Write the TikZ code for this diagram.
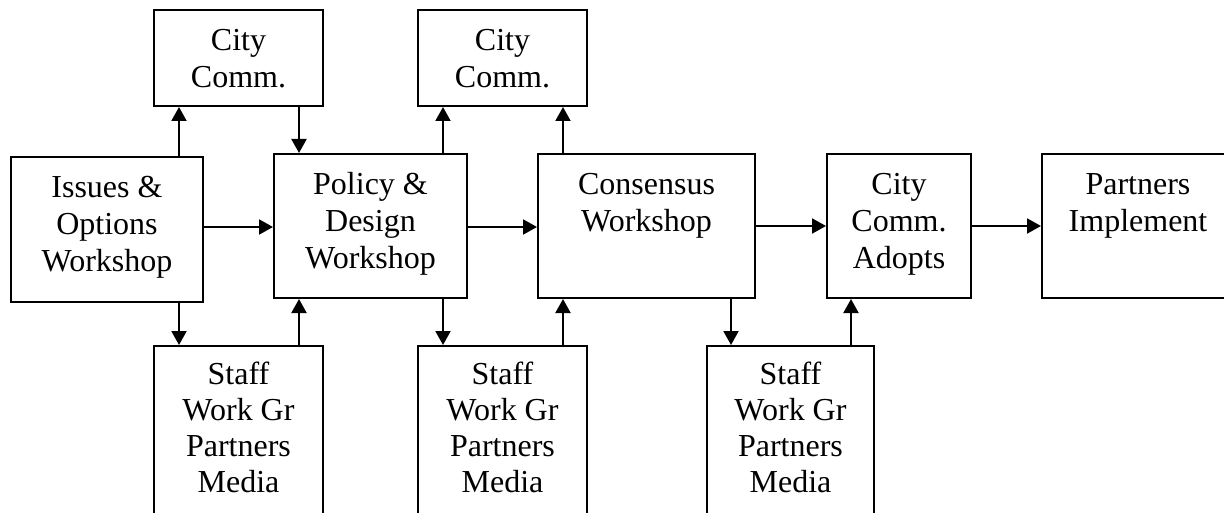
\documentclass[tikz,border=0pt]{standalone}
\usepackage{fontspec}
\setmainfont{Liberation Serif}
\usetikzlibrary{arrows.meta}
\begin{document}
\begin{tikzpicture}[x=1pt,y=-1pt,
  box/.style={draw, line width=2pt, rectangle, inner sep=0pt},
  txt/.style={inner sep=0pt, align=center, anchor=north, font=\fontsize{32}{37}\selectfont},
  arr/.style={line width=2pt, -{Triangle[length=14pt,width=15pt]}}]
\useasboundingbox (0,0) rectangle (1224,513);
\clip (0,0) rectangle (1224,513);
% boxes
\node[box, minimum width=169pt, minimum height=96pt]  (ci1) at (238.5,58) {};
\node[box, minimum width=192pt, minimum height=145pt] (iss) at (107,229.5) {};
\node[box, minimum width=193pt, minimum height=144pt] (pol) at (370.5,226) {};
\node[box, minimum width=169pt, minimum height=96pt]  (ci2) at (502.5,58) {};
\node[box, minimum width=217pt, minimum height=144pt] (con) at (646.5,226) {};
\node[box, minimum width=144pt, minimum height=144pt] (ado) at (899,226) {};
\node[box, minimum width=192pt, minimum height=144pt] (par) at (1138,226) {};
\node[box, minimum width=169pt, minimum height=200pt] (st1) at (238.5,446) {};
\node[box, minimum width=169pt, minimum height=200pt] (st2) at (502.5,446) {};
\node[box, minimum width=167pt, minimum height=200pt] (st3) at (790.5,446) {};
% texts
\node[txt] (ci1t) at ([yshift=-15.4pt]ci1.north) {\strut City\\Comm.};
\node[txt] (isst) at ([yshift=-15.4pt]iss.north) {\strut Issues \&\\Options\\Workshop};
\node[txt] (polt) at ([yshift=-15.4pt]pol.north) {\strut Policy \&\\Design\\Workshop};
\node[txt] (ci2t) at ([yshift=-15.4pt]ci2.north) {\strut City\\Comm.};
\node[txt] (cont) at ([yshift=-15.4pt]con.north) {\strut Consensus\\Workshop};
\node[txt] (adot) at ([yshift=-15.4pt]ado.north) {\strut City\\Comm.\\Adopts};
\node[txt] (part) at ([yshift=-15.4pt]par.north) {\strut Partners\\Implement};
\node[txt, font=\fontsize{32}{36}\selectfont] (st1t) at ([yshift=-14.4pt]st1.north) {\strut Staff\\Work Gr\\Partners\\Media};
\node[txt, font=\fontsize{32}{36}\selectfont] (st2t) at ([yshift=-14.4pt]st2.north) {\strut Staff\\Work Gr\\Partners\\Media};
\node[txt, font=\fontsize{32}{36}\selectfont] (st3t) at ([yshift=-14.4pt]st3.north) {\strut Staff\\Work Gr\\Partners\\Media};
% connector x / y positions
\coordinate (xa) at (179,0);
\coordinate (xb) at (299,0);
\coordinate (xc) at (443,0);
\coordinate (xd) at (563,0);
\coordinate (xe) at (731,0);
\coordinate (xf) at (851,0);
\coordinate (ya) at (0,227);
\coordinate (yb) at (0,226);
% connectors
\draw[arr] (iss.north -| xa) -- (ci1.south -| xa);
\draw[arr] (ci1.south -| xb) -- (pol.north -| xb);
\draw[arr] (iss.east |- ya) -- (pol.west |- ya);
\draw[arr] (pol.north -| xc) -- (ci2.south -| xc);
\draw[arr] (con.north -| xd) -- (ci2.south -| xd);
\draw[arr] (pol.east |- ya) -- (con.west |- ya);
\draw[arr] (con.east |- yb) -- (ado.west |- yb);
\draw[arr] (ado.east |- yb) -- (par.west |- yb);
\draw[arr] (iss.south -| xa) -- (st1.north -| xa);
\draw[arr] (st1.north -| xb) -- (pol.south -| xb);
\draw[arr] (pol.south -| xc) -- (st2.north -| xc);
\draw[arr] (st2.north -| xd) -- (con.south -| xd);
\draw[arr] (con.south -| xe) -- (st3.north -| xe);
\draw[arr] (st3.north -| xf) -- (ado.south -| xf);
\end{tikzpicture}
\end{document}
